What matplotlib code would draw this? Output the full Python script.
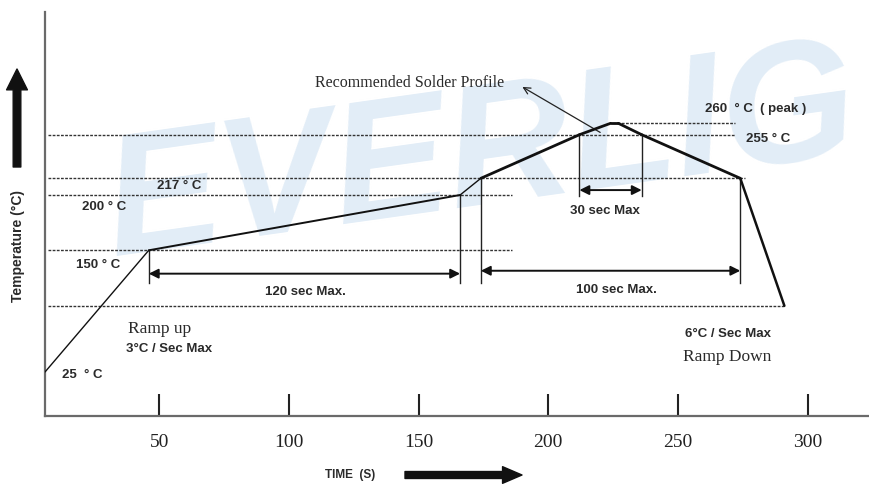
import numpy as np
import matplotlib
matplotlib.use("Agg")
import matplotlib.pyplot as plt
from matplotlib.patches import FancyArrowPatch

# ---------------- data ----------------
prof_t = [6, 46, 166, 174, 212, 224, 227, 236, 274, 291]
prof_T = [25, 150, 200, 217, 255, 260, 260, 255, 217, 93]

level_T = [93, 150, 200, 217, 255, 260]
level_t0 = [7, 7, 7, 7, 7, 225]
level_t1 = [291, 186, 186, 276, 272, 272]

mark_t = [46, 166, 174, 274, 212, 236]
mark_top = [150, 200, 217, 217, 255, 255]
mark_bot = [116, 116, 116, 116, 199, 199]

span_t0 = [46, 174, 212]
span_t1 = [166, 274, 236]
span_T = [126, 129, 205]
span_labels = ["120 sec Max.", "100 sec Max.", "30 sec Max"]

xticks = [50, 100, 150, 200, 250, 300]

# schematic (not-to-scale) temperature axis of the drawing
scale_T = [-20, 25, 150, 200, 217, 255, 260, 361]
scale_h = [0, 44, 165.7, 221, 237.7, 281.3, 292.7, 404]

W, H = 870, 485
fig = plt.figure(figsize=(W / 100, H / 100), dpi=100)
ax = fig.add_axes([45 / W, 1 - 417 / H, 1 - 45 / W, (417 - 13) / H])
ax.patch.set_visible(False)

def at(px, py):
    return px / W, 1 - py / H

# watermark
fig.text(*at(96, 256), "EVERLIG", fontsize=124, fontweight="black", style="italic",
         color="#e2edf7", rotation=8, ha="left", va="baseline", zorder=-5,
         family="Liberation Sans")

fwd = lambda v: np.interp(v, scale_T, scale_h)
inv = lambda v: np.interp(v, scale_h, scale_T)
ax.set_yscale("function", functions=(fwd, inv))
ax.set_xlim(6, 324)
ax.set_ylim(-20, 361)

# reference levels
dot = (0, (2, 1))
for T, a, b in zip(level_T, level_t0, level_t1):
    ax.plot([a, b], [T, T], color="#333333", lw=1.0, ls=dot, zorder=2)

# profile
seg_w = [1.0, 1.4, 1.0, 2.0, 2.0, 2.0, 2.0, 2.0, 1.8]
for i in range(len(prof_t) - 1):
    ax.plot(prof_t[i:i + 2], prof_T[i:i + 2], color="#111111", lw=seg_w[i],
            solid_capstyle="round", zorder=4)

# vertical markers
for t, a, b in zip(mark_t, mark_top, mark_bot):
    ax.plot([t, t], [b, a], color="#222222", lw=1.0, zorder=3)

# span arrows
for a, b, T in zip(span_t0, span_t1, span_T):
    ax.annotate("", xy=(b, T), xytext=(a, T),
                arrowprops=dict(arrowstyle="<|-|>", color="#111111", lw=1.4,
                                mutation_scale=14, shrinkA=0, shrinkB=0))

# pointer arrow
ax.annotate("", xy=(190, 293), xytext=(220, 256),
            arrowprops=dict(arrowstyle="->", color="#222222", lw=0.9,
                            mutation_scale=12, shrinkA=0, shrinkB=0))

# axes styling
for s in ["top", "right"]:
    ax.spines[s].set_visible(False)
for s in ["left", "bottom"]:
    ax.spines[s].set_color("#6a6a6a")
    ax.spines[s].set_linewidth(1.6)
ax.set_yticks([])
ax.set_xticks(xticks)
ax.set_xticklabels([str(v) for v in xticks], family="Liberation Serif", fontsize=14)
ax.tick_params(axis="x", direction="in", length=16, width=1.5, color="#222222",
               pad=12, labelcolor="#222222")

# texts
bold = dict(family="Liberation Sans", fontweight="bold", color="#2a2a2a",
            ha="center", va="center")
serif = dict(family="Liberation Serif", color="#2a2a2a", ha="center", va="center")
fig.text(*at(179.5, 186), "217 ° C", fontsize=9.5, **bold)
fig.text(*at(104, 207), "200 ° C", fontsize=9.5, **bold)
fig.text(*at(98.5, 265), "150 ° C", fontsize=9.5, **bold)
fig.text(*at(82, 375), "25  ° C", fontsize=9.5, **bold)
fig.text(*at(159.5, 329), "Ramp up", fontsize=12.5, **serif)
fig.text(*at(169.5, 349), "3°C / Sec Max", fontsize=9.5, **bold)
fig.text(*at(305, 292), span_labels[0], fontsize=9.5, **bold)
fig.text(*at(616, 290), span_labels[1], fontsize=9.5, **bold)
fig.text(*at(605, 211), span_labels[2], fontsize=9.5, **bold)
fig.text(*at(410, 83), "Recommended Solder Profile", fontsize=11.5, **serif)
fig.text(*at(705, 109), "260  ° C  ( peak )", fontsize=9.5,
         **{**bold, "ha": "left"})
fig.text(*at(746, 139), "255 ° C", fontsize=9.5, **{**bold, "ha": "left"})
fig.text(*at(728.5, 334), "6°C / Sec Max", fontsize=9.5, **bold)
fig.text(*at(727, 357), "Ramp Down", fontsize=12.5, **serif)
fig.text(*at(350, 475), "TIME  (S)", fontsize=8.5, **bold)
fig.text(*at(18, 246), "Temperature (°C)", fontsize=10, rotation=90, **bold)

# big axis arrows
fig.add_artist(FancyArrowPatch(at(405, 476), at(522, 476), transform=fig.transFigure,
               arrowstyle="simple,head_length=1.4,head_width=1.2,tail_width=0.5",
               mutation_scale=10, color="#111111", shrinkA=0, shrinkB=0))
fig.add_artist(FancyArrowPatch(at(17, 168), at(17, 70), transform=fig.transFigure,
               arrowstyle="simple,head_length=1.5,head_width=1.5,tail_width=0.55",
               mutation_scale=10, color="#111111", shrinkA=0, shrinkB=0))

fig.savefig("out.png", dpi=100)
